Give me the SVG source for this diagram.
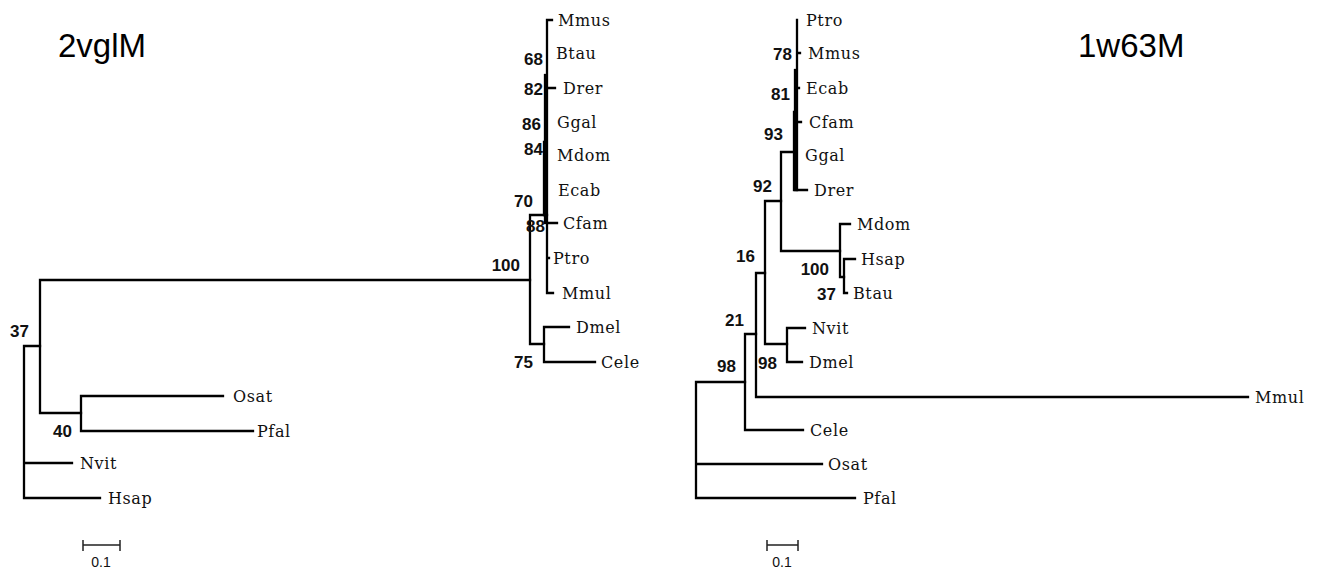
<svg xmlns="http://www.w3.org/2000/svg" width="1339" height="570" viewBox="0 0 1339 570">
<style>
.e{fill:none;stroke:#000;stroke-width:2.3;stroke-linecap:square}
.leaf{font-family:"DejaVu Serif",serif;font-size:16px;letter-spacing:0.6px;fill:#111}
.bs{font-family:"Liberation Sans",Arial,sans-serif;font-size:17px;font-weight:bold;fill:#111;text-anchor:end}
.title{font-family:"Liberation Sans",Arial,sans-serif;font-size:33px;fill:#000}
.sc{font-family:"Liberation Sans",Arial,sans-serif;font-size:14px;fill:#111;text-anchor:middle}
.sb{fill:none;stroke:#222;stroke-width:1.5}
</style>
<rect width="1339" height="570" fill="#fff"/>
<text class="title" x="58" y="57">2vglM</text>
<text class="title" x="1078" y="57">1w63M</text>

<g id="connectors">
  <!-- left tree -->
  <path class="e" d="M24,346 V498 M24,346 H40 M24,463 H72 M24,498 H100"/>
  <path class="e" d="M40,280 V413 M40,280 H530 M40,413 H81"/>
  <path class="e" d="M81,396 V431 M81,396 H223 M81,431 H253"/>
  <path class="e" d="M530,215 V344 M530,215 H547 M530,344 H544"/>
  <path class="e" d="M544,327 V362 M544,327 H569 M544,362 H595"/>
  <path class="e" d="M547,20 V293 M547,20 H552 M547,88 H555 M547,223 H557 M547,293 H553 M547,258 H549"/>
  <path class="e" d="M545,75 V223"/>
  <path class="e" d="M544,142 V215 M544,142 H546"/>
  <!-- right tree -->
  <path class="e" d="M696,382 V498 M696,382 H745 M696,464 H822 M696,498 H855"/>
  <path class="e" d="M745,334 V430 M745,334 H756 M745,430 H803"/>
  <path class="e" d="M756,273 V397 M756,273 H765 M756,397 H1248"/>
  <path class="e" d="M765,201 V344 M765,201 H781 M765,344 H787"/>
  <path class="e" d="M787,328 V362 M787,328 H805 M787,362 H802"/>
  <path class="e" d="M781,152 V251 M781,152 H794 M781,251 H840"/>
  <path class="e" d="M840,224 V277 M840,224 H850 M840,277 H844"/>
  <path class="e" d="M844,259 V293 M844,259 H855 M844,293 H847"/>
  <path class="e" d="M797,20 V190 M797,53 H800 M797,88 H799 M797,122 H801"/>
  <path class="e" d="M795,70 V190"/>
  <path class="e" d="M794,112 V190 M794,190 H807"/>
</g>

<g id="left-leaves">
  <g id="L-Mmus"><text class="leaf" x="558" y="26">Mmus</text></g>
  <g id="L-Btau"><text class="leaf" x="556" y="59">Btau</text></g>
  <g id="L-Drer"><text class="leaf" x="563" y="94">Drer</text></g>
  <g id="L-Ggal"><text class="leaf" x="557" y="128">Ggal</text></g>
  <g id="L-Mdom"><text class="leaf" x="557" y="161">Mdom</text></g>
  <g id="L-Ecab"><text class="leaf" x="558" y="196">Ecab</text></g>
  <g id="L-Cfam"><text class="leaf" x="563" y="229">Cfam</text></g>
  <g id="L-Ptro"><text class="leaf" x="553" y="264">Ptro</text></g>
  <g id="L-Mmul"><text class="leaf" x="562" y="299">Mmul</text></g>
  <g id="L-Dmel"><text class="leaf" x="576" y="333">Dmel</text></g>
  <g id="L-Cele"><text class="leaf" x="601" y="368">Cele</text></g>
  <g id="L-Osat"><text class="leaf" x="233" y="402">Osat</text></g>
  <g id="L-Pfal"><text class="leaf" x="257" y="437">Pfal</text></g>
  <g id="L-Nvit"><text class="leaf" x="80" y="469">Nvit</text></g>
  <g id="L-Hsap"><text class="leaf" x="108" y="504">Hsap</text></g>
</g>
<g id="left-support">
  <g id="Ls68"><text class="bs" x="543" y="65">68</text></g>
  <g id="Ls82"><text class="bs" x="543" y="95">82</text></g>
  <g id="Ls86"><text class="bs" x="541" y="130">86</text></g>
  <g id="Ls84"><text class="bs" x="543" y="155">84</text></g>
  <g id="Ls70"><text class="bs" x="533" y="207">70</text></g>
  <g id="Ls88"><text class="bs" x="545" y="232">88</text></g>
  <g id="Ls100"><text class="bs" x="520" y="271">100</text></g>
  <g id="Ls75"><text class="bs" x="533" y="368">75</text></g>
  <g id="Ls37"><text class="bs" x="29" y="337">37</text></g>
  <g id="Ls40"><text class="bs" x="72" y="437">40</text></g>
</g>

<g id="right-leaves">
  <g id="R-Ptro"><text class="leaf" x="806" y="26">Ptro</text></g>
  <g id="R-Mmus"><text class="leaf" x="808" y="59">Mmus</text></g>
  <g id="R-Ecab"><text class="leaf" x="806" y="94">Ecab</text></g>
  <g id="R-Cfam"><text class="leaf" x="809" y="128">Cfam</text></g>
  <g id="R-Ggal"><text class="leaf" x="805" y="161">Ggal</text></g>
  <g id="R-Drer"><text class="leaf" x="814" y="196">Drer</text></g>
  <g id="R-Mdom"><text class="leaf" x="857" y="230">Mdom</text></g>
  <g id="R-Hsap"><text class="leaf" x="861" y="265">Hsap</text></g>
  <g id="R-Btau"><text class="leaf" x="853" y="299">Btau</text></g>
  <g id="R-Nvit"><text class="leaf" x="812" y="334">Nvit</text></g>
  <g id="R-Dmel"><text class="leaf" x="809" y="368">Dmel</text></g>
  <g id="R-Mmul"><text class="leaf" x="1255" y="403">Mmul</text></g>
  <g id="R-Cele"><text class="leaf" x="810" y="436">Cele</text></g>
  <g id="R-Osat"><text class="leaf" x="828" y="470">Osat</text></g>
  <g id="R-Pfal"><text class="leaf" x="863" y="504">Pfal</text></g>
</g>
<g id="right-support">
  <g id="Rs78"><text class="bs" x="792" y="60">78</text></g>
  <g id="Rs81"><text class="bs" x="790" y="100">81</text></g>
  <g id="Rs93"><text class="bs" x="783" y="140">93</text></g>
  <g id="Rs92"><text class="bs" x="772" y="192">92</text></g>
  <g id="Rs16"><text class="bs" x="755" y="262">16</text></g>
  <g id="Rs100"><text class="bs" x="829" y="275">100</text></g>
  <g id="Rs37"><text class="bs" x="836" y="300">37</text></g>
  <g id="Rs21"><text class="bs" x="744" y="326">21</text></g>
  <g id="Rs98a"><text class="bs" x="777" y="369">98</text></g>
  <g id="Rs98b"><text class="bs" x="736" y="372">98</text></g>
</g>

<g id="scale-left">
  <path class="sb" d="M83,545 H120 M83,540 V551 M120,540 V551"/>
  <text class="sc" x="101" y="567">0.1</text>
</g>
<g id="scale-right">
  <path class="sb" d="M767,545 H798 M767,540 V551 M798,540 V551"/>
  <text class="sc" x="782" y="567">0.1</text>
</g>
</svg>
